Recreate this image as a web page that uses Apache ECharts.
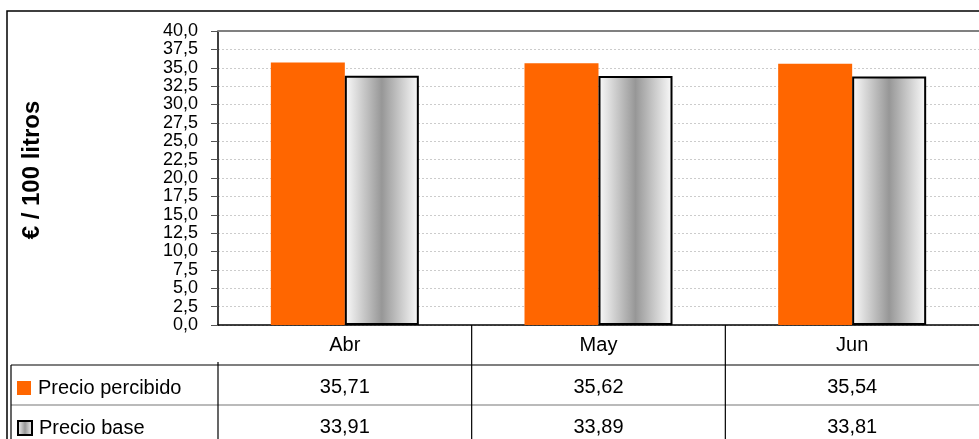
<!DOCTYPE html>
<html>
<head>
<meta charset="utf-8">
<script src="https://cdn.jsdelivr.net/npm/echarts@6/dist/echarts.min.js"></script>
<style>
html,body{margin:0;padding:0;background:#fff;}
#c{width:979px;height:439px;}
</style>
</head>
<body>
<div id="c"></div>
<script>
const categories = ['Abr', 'May', 'Jun'];
const precioPercibido = [35.71, 35.62, 35.54];
const precioBase = [33.91, 33.89, 33.81];
const seriesNames = ['Precio percibido', 'Precio base'];
const yMin = 0, yMax = 40, yStep = 2.5;
const yTitle = '€ / 100 litros';

const FONT = '"Liberation Sans", Arial, sans-serif';
const fmt = (v, d) => v.toFixed(d).replace('.', ',');

const chart = echarts.init(document.getElementById('c'), null, {renderer: 'canvas'});

const grayGrad = new echarts.graphic.LinearGradient(0, 0, 1, 0, [
  {offset: 0, color: '#fbfbfb'},
  {offset: 0.5, color: '#979797'},
  {offset: 1, color: '#fbfbfb'}
]);

const legendBase = {
  orient: 'vertical', left: 17,
  itemWidth: 14, itemHeight: 14, icon: 'rect',
  padding: 0,
  textStyle: {fontFamily: FONT, fontSize: 20, color: '#000', padding: [0, 0, 0, 2]}
};

chart.setOption({
  animation: false,
  backgroundColor: '#ffffff',
  textStyle: {fontFamily: FONT},
  grid: {left: 218, right: -2, top: 31, bottom: 114, containLabel: false},
  legend: [
    Object.assign({}, legendBase, {top: 378, data: [seriesNames[0]]}),
    Object.assign({}, legendBase, {top: 418, data: [seriesNames[1]]})
  ],
  xAxis: {
    type: 'category',
    data: categories,
    boundaryGap: true,
    axisLine: {show: true, lineStyle: {color: '#000', width: 1.5}},
    axisTick: {show: false},
    axisLabel: {fontFamily: FONT, fontSize: 20, color: '#000', margin: 10},
    splitLine: {show: false}
  },
  yAxis: {
    type: 'value',
    min: yMin, max: yMax, interval: yStep,
    name: yTitle,
    nameLocation: 'middle',
    nameRotate: 90,
    nameGap: 174,
    nameTextStyle: {fontFamily: FONT, fontSize: 24, fontWeight: 'bold', color: '#000',
      padding: [0, 0, 0, 16]},
    axisLine: {show: true, lineStyle: {color: '#000', width: 1.5}},
    axisTick: {show: true, length: 7, lineStyle: {color: '#555'}},
    axisLabel: {fontFamily: FONT, fontSize: 18, color: '#000', margin: 20, lineHeight: 12,
      showMinLabel: true, showMaxLabel: true, hideOverlap: false,
      formatter: v => fmt(v, 1)},
    splitLine: {show: true, lineStyle: {color: '#cccccc', type: [2, 2], width: 1}}
  },
  series: [
    {
      name: seriesNames[0], type: 'bar', data: precioPercibido,
      barWidth: 74, barGap: '0%',
      itemStyle: {color: '#ff6600'}
    },
    {
      name: seriesNames[1], type: 'bar', data: precioBase,
      barWidth: 74, barGap: '0%',
      itemStyle: {color: grayGrad, borderColor: '#000', borderWidth: 2}
    }
  ]
});

// Data table & frame built from the axis geometry
const xs = categories.map((c, i) => chart.convertToPixel({xAxisIndex: 0}, i));
const band = xs.length > 1 ? xs[1] - xs[0] : 254;
const axisY = chart.convertToPixel({yAxisIndex: 0}, yMin);
const topY = chart.convertToPixel({yAxisIndex: 0}, yMax);
const leftX = xs[0] - band / 2;
const rightX = xs[xs.length - 1] + band / 2;
const row1 = axisY + 40, row2 = row1 + 40, row3 = row2 + 40;
const tableLeft = 11;

const g = [];
const line = (x1, y1, x2, y2, color, w) => g.push({
  type: 'line', shape: {x1, y1, x2, y2}, silent: true, z: 10,
  style: {stroke: color, lineWidth: w}
});
// outer frame
g.push({type: 'rect', shape: {x: 7, y: 11, width: 1200, height: 600}, silent: true,
  style: {fill: null, stroke: '#000', lineWidth: 1.5}, z: 10});
// top border of plot
line(leftX, topY, rightX + 5, topY, '#808080', 2);
// table horizontal lines
line(tableLeft, row1, rightX + 5, row1, '#000', 1.2);
line(tableLeft, row2, rightX + 5, row2, '#777', 1.2);
// table verticals
line(tableLeft, row1, tableLeft, 460, '#000', 1.2);
line(leftX, row1 - 3, leftX, 460, '#000', 1.2);
for (let i = 1; i < xs.length; i++) {
  const bx = xs[i] - band / 2;
  line(bx, axisY, bx, 460, '#000', 1.2);
}
// values
const rows = [precioPercibido, precioBase];
rows.forEach((arr, r) => {
  const cy = (r === 0 ? (row1 + row2) / 2 : (row2 + row3) / 2);
  arr.forEach((v, i) => {
    g.push({type: 'text', x: xs[i], y: cy + 2, silent: true, z: 11,
      style: {text: fmt(v, 2), fontFamily: FONT, fontSize: 20, fill: '#000',
        align: 'center', verticalAlign: 'middle'}});
  });
});
chart.setOption({graphic: g});
</script>
</body>
</html>
